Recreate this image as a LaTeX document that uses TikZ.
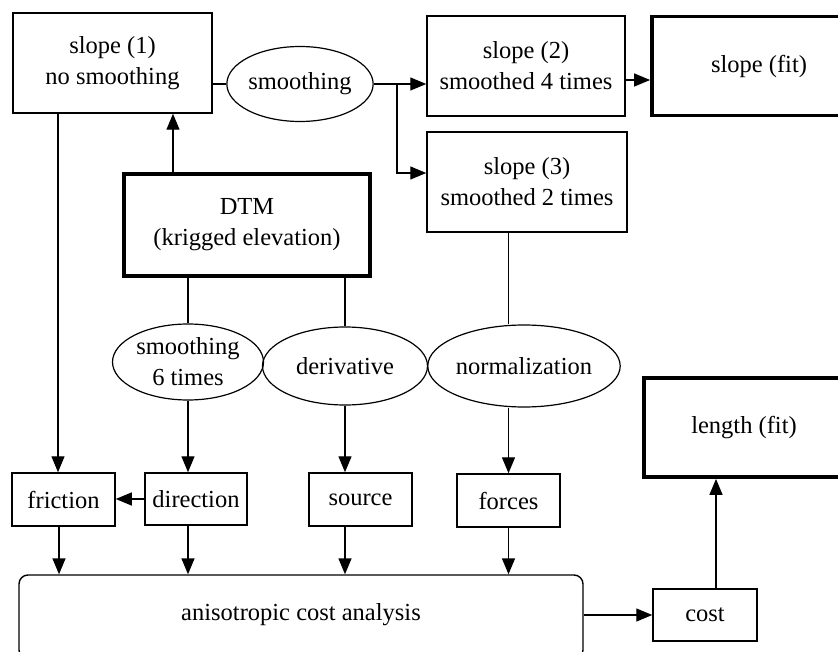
\documentclass[tikz,border=0pt]{standalone}
\usepackage{fontspec}
\setmainfont{Liberation Serif}
\usetikzlibrary{arrows.meta,shapes.geometric,calc}
\begin{document}
\begin{tikzpicture}[x=1pt,y=-1pt,
  every node/.style={font=\fontsize{24.5}{31}\selectfont, align=center, inner sep=0pt},
  box/.style={draw, line width=1.5pt, rectangle},
  thickbox/.style={draw, line width=3.8pt, rectangle},
  oval/.style={draw, line width=1.2pt, ellipse},
  ln/.style={line width=1.4pt},
  arr/.style={line width=1.4pt, -{Triangle[length=16pt,width=13pt]}}]
\useasboundingbox (0,0) rectangle (838,652);
\clip (0,0) rectangle (838,652);
\fill[white] (0,0) rectangle (838,652);

% nodes
\node[box, minimum width=199, minimum height=100] (slope1) at (112.5,63) {slope (1)\\no smoothing};
\node[oval, minimum width=144, minimum height=75] (smooth) at (300,84) {smoothing};
\node[box, minimum width=198, minimum height=100] (slope2) at (526,66) {slope (2)\\smoothed 4 times};
\node[thickbox, minimum width=214, minimum height=99] (slopefit) at (759,66) {slope (fit)};
\node[box, minimum width=200, minimum height=100] (slope3) at (527,182) {slope (3)\\smoothed 2 times};
\node[thickbox, minimum width=246, minimum height=102] (dtm) at (247,225) {DTM\\(krigged elevation)};
\node[oval, minimum width=151, minimum height=76] (smooth6) at (188,362) {smoothing\\6 times};
\node[oval, minimum width=165, minimum height=78] (deriv) at (345,366) {derivative};
\node[oval, minimum width=155, minimum height=82] (norm) at (524,366) {normalization};
\node[thickbox, minimum width=200, minimum height=99] (lenfit) at (744,427.5) {length (fit)};
\node[box, minimum width=103, minimum height=53] (friction) at (63.5,499.5) {friction};
\node[box, minimum width=102, minimum height=52] (direction) at (196,499) {direction};
\node[box, minimum width=103, minimum height=53] (source) at (360.5,499.5) {source};
\node[box, minimum width=103, minimum height=53] (forces) at (508.5,500.5) {forces};
\node[draw, line width=1.4pt, rounded corners=9pt, minimum width=564, minimum height=84] (aniso) at (301,617) {};
\node (anisotext) at (301,615) {anisotropic cost analysis};
\node[box, minimum width=104, minimum height=52] (cost) at (705,615) {cost};

% helper coordinates
\coordinate (br) at (397,84);
\coordinate (s3in) at ($(slope3.west)+(0,-9)$);
\coordinate (s2out) at ($(slope2.east)+(0,14)$);
\coordinate (dtmup) at ($(dtm.north)+(-74,0)$);
\coordinate (s1down) at ($(slope1.south)+(-54.5,0)$);
\coordinate (frdown) at ($(friction.south)+(-4.5,0)$);
\coordinate (costup) at ($(cost.north)+(11,0)$);

% connectors
\draw[ln] (smooth.west -| slope1.east) -- (smooth.west);
\draw[ln] (smooth.east) -- (br);
\draw[arr] (br) -- (br -| slope2.west);
\draw[arr] (br) |- (s3in);
\draw[arr] (s2out) -- (s2out -| slopefit.west);
\draw[arr] (dtmup) -- (dtmup |- slope1.south);
\draw[arr] (s1down) -- (s1down |- friction.north);
\draw[ln] (dtm.south -| smooth6) -- (smooth6.north);
\draw[ln] (dtm.south -| deriv) -- (deriv.north);
\draw[ln] (slope3.south -| forces) -- (norm.north -| forces);
\draw[arr] (smooth6.south) -- (smooth6.south |- direction.north);
\draw[arr] (deriv.south) -- (deriv.south |- source.north);
\draw[arr] (norm.south -| forces) -- (forces.north);
\draw[arr] (direction.west) -- (friction.east |- direction.west);
\draw[arr] (frdown) -- (frdown |- aniso.north);
\draw[arr] (smooth6 |- direction.south) -- (smooth6 |- aniso.north);
\draw[arr] (deriv |- source.south) -- (deriv |- aniso.north);
\draw[arr] (forces.south) -- (forces.south |- aniso.north);
\draw[arr] (cost.west -| aniso.east) -- (cost.west);
\draw[arr] (costup) -- (costup |- lenfit.south);
\end{tikzpicture}
\end{document}
